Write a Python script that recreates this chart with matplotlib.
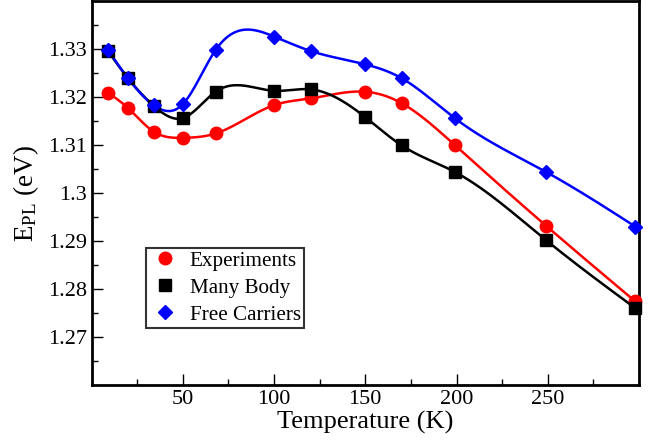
import matplotlib
matplotlib.use("Agg")
import matplotlib.pyplot as plt
import numpy as np

plt.rcParams['font.family'] = ['Liberation Serif', 'DejaVu Serif']
plt.rcParams['mathtext.fontset'] = 'custom'
plt.rcParams['mathtext.rm'] = 'Liberation Serif'
plt.rcParams['mathtext.it'] = 'Liberation Serif:italic'

# Temperaturas (K) y energias de PL (eV)
temp = [9, 20, 34, 50, 68, 100, 120, 150, 170, 199, 249, 298]
e_exp = [1.3210, 1.3178, 1.3129, 1.3116, 1.3125, 1.3184, 1.3198, 1.3212, 1.3188, 1.3101, 1.2933, 1.2775]
e_mb = [1.3297, 1.3240, 1.3183, 1.3157, 1.3212, 1.3214, 1.3217, 1.3159, 1.3100, 1.3045, 1.2903, 1.2761]
e_free = [1.3299, 1.3240, 1.3184, 1.3186, 1.3299, 1.3327, 1.3297, 1.3269, 1.3240, 1.3157, 1.3045, 1.2931]


def spline(x, y, n=400):
    # spline cubica natural para unir los puntos
    x = np.asarray(x, float)
    y = np.asarray(y, float)
    m = len(x)
    h = np.diff(x)
    A = np.zeros((m, m))
    b = np.zeros(m)
    A[0, 0] = A[-1, -1] = 1
    for i in range(1, m - 1):
        A[i, i - 1] = h[i - 1]
        A[i, i] = 2 * (h[i - 1] + h[i])
        A[i, i + 1] = h[i]
        b[i] = 6 * ((y[i + 1] - y[i]) / h[i] - (y[i] - y[i - 1]) / h[i - 1])
    M = np.linalg.solve(A, b)
    xs = np.linspace(x[0], x[-1], n)
    k = np.clip(np.searchsorted(x, xs) - 1, 0, m - 2)
    t0 = x[k + 1] - xs
    t1 = xs - x[k]
    hk = h[k]
    ys = (M[k] * t0**3 + M[k + 1] * t1**3) / (6 * hk) \
        + (y[k] / hk - M[k] * hk / 6) * t0 + (y[k + 1] / hk - M[k + 1] * hk / 6) * t1
    return xs, ys


fig = plt.figure(figsize=(6.5, 4.4), dpi=100)
ax = fig.add_axes([0.1408, 0.1239, 0.8423, 0.8727])

series = [
    (e_exp, 'red', 'o', 9, 'Experiments'),
    (e_mb, 'black', 's', 8.5, 'Many Body'),
    (e_free, 'blue', 'D', 7.5, 'Free Carriers'),
]
handles = []
for vals, col, mk, ms, lab in series:
    xs, ys = spline(temp, vals)
    ax.plot(xs, ys, color=col, lw=1.8, zorder=2)
    h, = ax.plot(temp, vals, ls='none', marker=mk, ms=ms, color=col,
                 mec=col, label=lab, zorder=3, clip_on=False)
    handles.append(h)

ax.set_xlim(0, 300)
ax.set_ylim(1.26, 1.34)
ax.set_xticks([50, 100, 150, 200, 250])
ax.set_xticks(np.arange(25, 300, 50), minor=True)
ax.set_yticks([1.27, 1.28, 1.29, 1.30, 1.31, 1.32, 1.33])
ax.set_yticklabels(['1.27', '1.28', '1.29', '1.3', '1.31', '1.32', '1.33'])
ax.set_yticks(np.arange(1.265, 1.34, 0.01), minor=True)
ax.tick_params(which='both', direction='in', labelsize=16, width=1)
ax.tick_params(which='major', length=8)
ax.tick_params(which='minor', length=4)
for sp in ax.spines.values():
    sp.set_linewidth(2)

ax.set_xlabel('Temperature (K)', fontsize=19, labelpad=1)
ax.set_ylabel(r'E$_{\mathrm{PL}}$ (eV)', fontsize=19.5, labelpad=5)

leg = ax.legend(handles=handles, loc='lower left', bbox_to_anchor=(0.1, 0.15),
                fontsize=15.2, frameon=True, fancybox=False, handlelength=1.45,
                handletextpad=0.45, borderpad=0.15, labelspacing=0.34,
                borderaxespad=0)
leg.get_frame().set_edgecolor('black')
leg.get_frame().set_linewidth(1.5)

fig.savefig('out.png', dpi=100)
